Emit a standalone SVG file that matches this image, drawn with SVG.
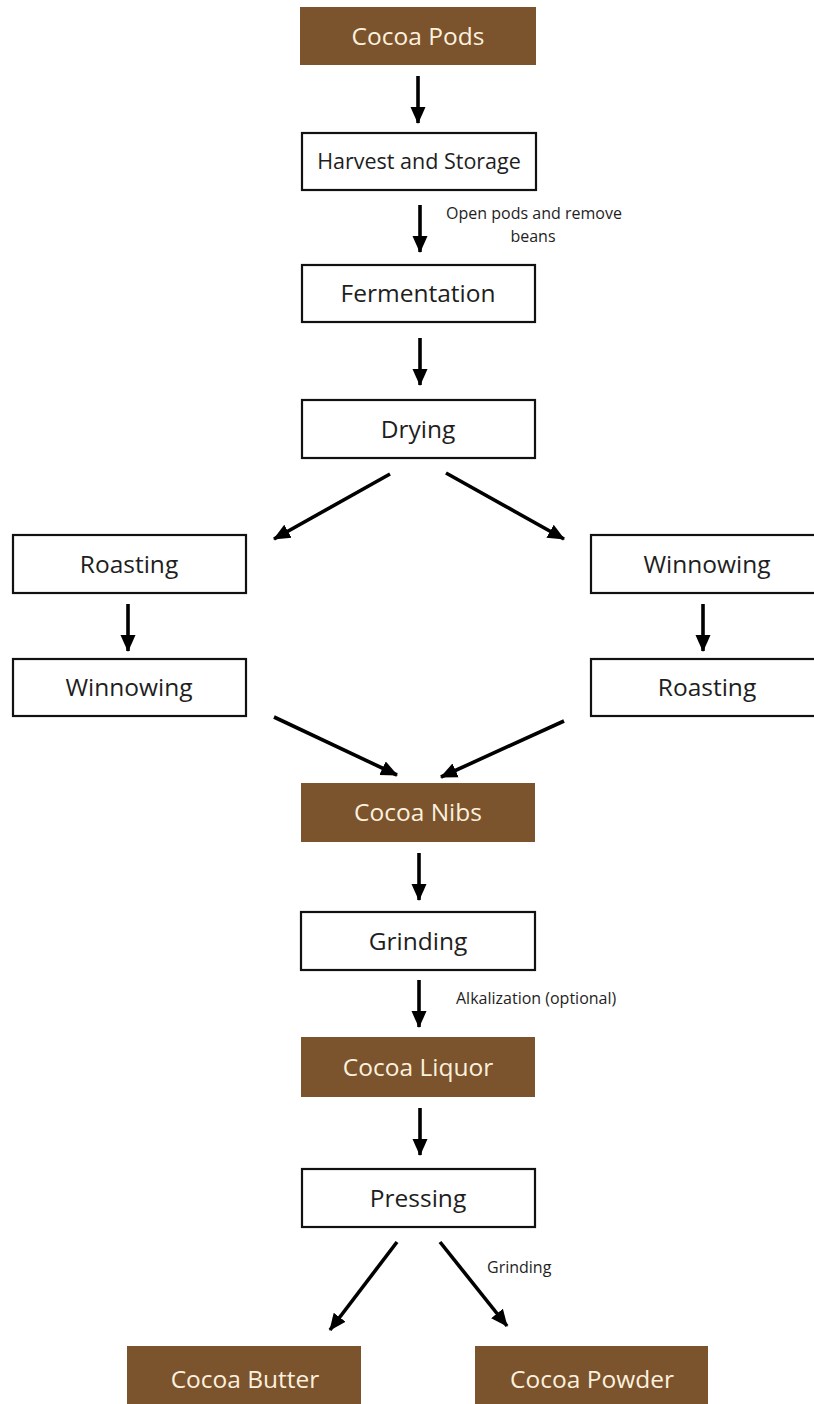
<svg xmlns="http://www.w3.org/2000/svg" width="814" height="1404" viewBox="0 0 814 1404">
  <defs>
    <marker id="ah" markerUnits="userSpaceOnUse" markerWidth="18" markerHeight="18" viewBox="0 0 18 18" refX="16" refY="9" orient="auto">
      <path d="M0,1.5 L17,9 L0,16.5 Z" fill="#000"/>
    </marker>
    <style>
      .box { fill: #ffffff; stroke: #111; stroke-width: 2.2; }
      .brown { fill: #7b532d; stroke: none; }
      .t { font-family: "Open Sans", "Liberation Sans", sans-serif; font-size: 24.5px; fill: #1e1e1e; text-anchor: middle; }
      .tw { font-family: "Open Sans", "Liberation Sans", sans-serif; font-size: 24.5px; fill: #fbf1de; text-anchor: middle; }
      .lbl { font-family: "Open Sans", "Liberation Sans", sans-serif; font-size: 16px; fill: #1e1e1e; }
      .arr { stroke: #000; stroke-width: 3.6; fill: none; marker-end: url(#ah); }
    </style>
  </defs>
  <rect width="814" height="1404" fill="#ffffff"/>

  <g id="cocoa-pods">
    <rect class="brown" x="300" y="7" width="236" height="58"/>
    <text class="tw" x="418" y="45">Cocoa Pods</text>
  </g>
  <g id="harvest">
    <rect class="box" x="302" y="133" width="234" height="57"/>
    <text class="t" x="419" y="169" style="font-size:21.5px">Harvest and Storage</text>
  </g>
  <g id="fermentation">
    <rect class="box" x="302" y="265" width="233" height="57"/>
    <text class="t" x="418" y="302">Fermentation</text>
  </g>
  <g id="drying">
    <rect class="box" x="302" y="400" width="233" height="58"/>
    <text class="t" x="418" y="438">Drying</text>
  </g>
  <g id="roasting-left">
    <rect class="box" x="13" y="535" width="233" height="58"/>
    <text class="t" x="129" y="573">Roasting</text>
  </g>
  <g id="winnowing-left">
    <rect class="box" x="13" y="659" width="233" height="57"/>
    <text class="t" x="129" y="696">Winnowing</text>
  </g>
  <g id="winnowing-right">
    <rect class="box" x="591" y="535" width="240" height="58"/>
    <text class="t" x="707" y="573">Winnowing</text>
  </g>
  <g id="roasting-right">
    <rect class="box" x="591" y="659" width="240" height="57"/>
    <text class="t" x="707" y="696">Roasting</text>
  </g>
  <g id="cocoa-nibs">
    <rect class="brown" x="301" y="783" width="234" height="59"/>
    <text class="tw" x="418" y="821">Cocoa Nibs</text>
  </g>
  <g id="grinding">
    <rect class="box" x="301" y="912" width="234" height="58"/>
    <text class="t" x="418" y="950">Grinding</text>
  </g>
  <g id="cocoa-liquor">
    <rect class="brown" x="301" y="1037" width="234" height="60"/>
    <text class="tw" x="418" y="1076">Cocoa Liquor</text>
  </g>
  <g id="pressing">
    <rect class="box" x="302" y="1169" width="233" height="58"/>
    <text class="t" x="418" y="1207">Pressing</text>
  </g>
  <g id="cocoa-butter">
    <rect class="brown" x="127" y="1346" width="234" height="66"/>
    <text class="tw" x="245" y="1388">Cocoa Butter</text>
  </g>
  <g id="cocoa-powder">
    <rect class="brown" x="475" y="1346" width="233" height="66"/>
    <text class="tw" x="592" y="1388">Cocoa Powder</text>
  </g>

  <g id="connectors">
    <line class="arr" x1="418" y1="76" x2="418" y2="123"/>
    <line class="arr" x1="420" y1="205" x2="420" y2="252"/>
    <line class="arr" x1="420" y1="338" x2="420" y2="385"/>
    <line class="arr" x1="390" y1="474" x2="274" y2="539"/>
    <line class="arr" x1="446" y1="473" x2="564" y2="539"/>
    <line class="arr" x1="128" y1="604" x2="128" y2="651"/>
    <line class="arr" x1="703" y1="604" x2="703" y2="651"/>
    <line class="arr" x1="274" y1="717" x2="397" y2="775"/>
    <line class="arr" x1="564" y1="721" x2="441" y2="777"/>
    <line class="arr" x1="419" y1="853" x2="419" y2="900"/>
    <line class="arr" x1="419" y1="980" x2="419" y2="1027"/>
    <line class="arr" x1="420" y1="1108" x2="420" y2="1155"/>
    <line class="arr" x1="397" y1="1242" x2="330" y2="1330"/>
    <line class="arr" x1="440" y1="1242" x2="507" y2="1326"/>
    <text class="lbl" x="534" y="219" text-anchor="middle">Open pods and remove</text>
    <text class="lbl" x="533" y="242" text-anchor="middle">beans</text>
    <text class="lbl" x="456" y="1004">Alkalization (optional)</text>
    <text class="lbl" x="487" y="1273">Grinding</text>
  </g>
</svg>
